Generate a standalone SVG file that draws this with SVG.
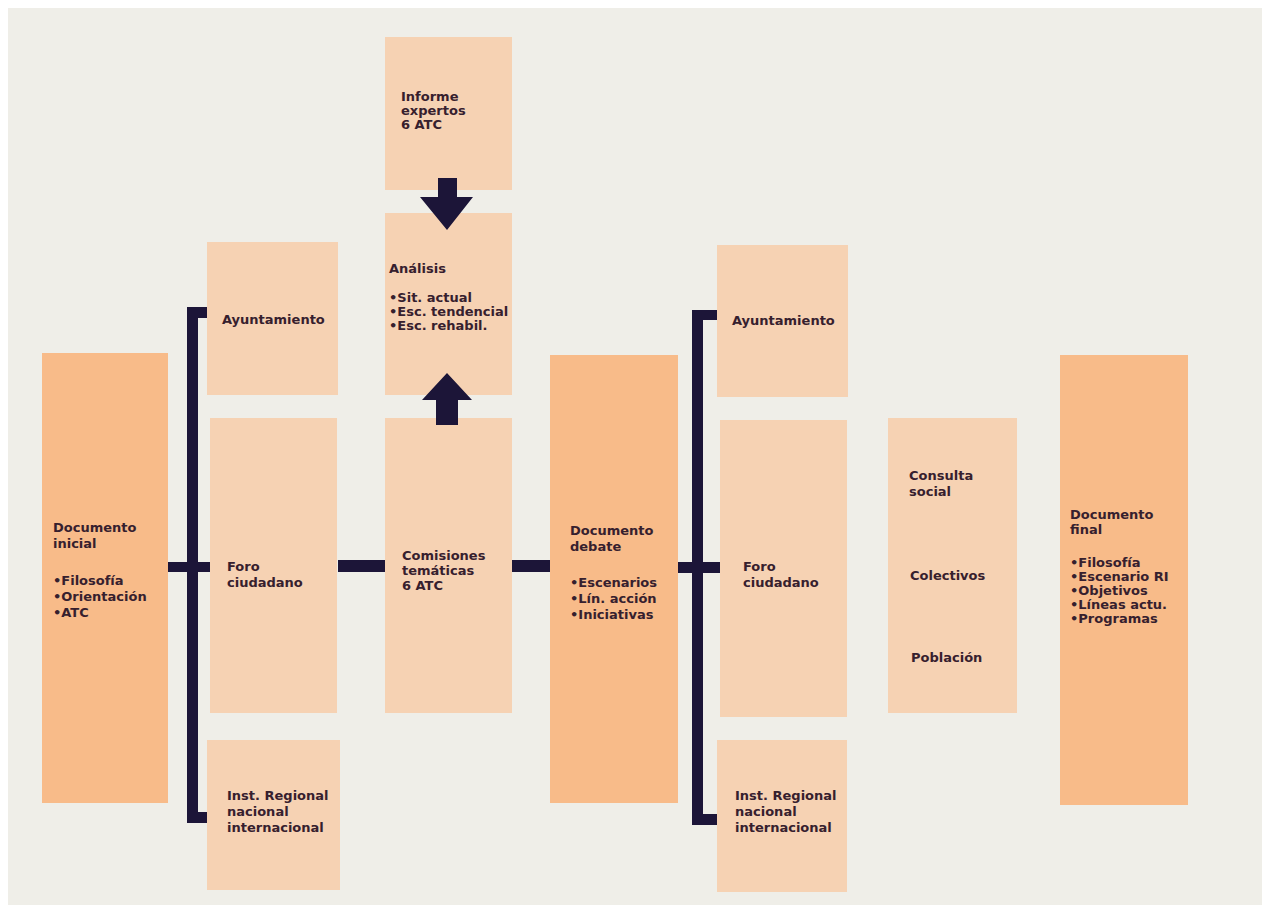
<svg xmlns="http://www.w3.org/2000/svg" width="1266" height="920" viewBox="0 0 1266 920">
<style>
.bg{fill:#efeee8}
.lt{fill:#f6d2b3}
.dk{fill:#f8bb89}
.bar{fill:#1c1538}
text{font-family:"DejaVu Sans",Verdana,sans-serif;font-weight:bold;font-size:13px;fill:#36202e}
</style>
<rect x="0" y="0" width="1266" height="920" fill="#ffffff"/>
<rect class="bg" x="8" y="8" width="1254" height="897"/>
<g id="informe"><rect class="lt" x="385" y="37" width="127" height="153"/>
<text x="401" y="101">Informe</text><text x="401" y="115">expertos</text><text x="401" y="129">6 ATC</text></g>
<g id="analisis"><rect class="lt" x="385" y="213" width="127" height="182"/>
<text x="389" y="273">Análisis</text><text x="389" y="302">•Sit. actual</text><text x="389" y="316">•Esc. tendencial</text><text x="389" y="330">•Esc. rehabil.</text></g>
<g id="doc-inicial"><rect class="dk" x="42" y="353" width="126" height="450"/>
<text x="53" y="532">Documento</text><text x="53" y="548">inicial</text><text x="53" y="585">•Filosofía</text><text x="53" y="601">•Orientación</text><text x="53" y="617">•ATC</text></g>
<g id="ayto-1"><rect class="lt" x="207" y="242" width="131" height="153"/>
<text x="222" y="324">Ayuntamiento</text></g>
<g id="foro-1"><rect class="lt" x="210" y="418" width="127" height="295"/>
<text x="227" y="571">Foro</text><text x="227" y="587">ciudadano</text></g>
<g id="inst-1"><rect class="lt" x="207" y="740" width="133" height="150"/>
<text x="227" y="800">Inst. Regional</text><text x="227" y="816">nacional</text><text x="227" y="832">internacional</text></g>
<g id="comisiones"><rect class="lt" x="385" y="418" width="127" height="295"/>
<text x="402" y="560">Comisiones</text><text x="402" y="575">temáticas</text><text x="402" y="590">6 ATC</text></g>
<g id="doc-debate"><rect class="dk" x="550" y="355" width="128" height="448"/>
<text x="570" y="535">Documento</text><text x="570" y="551">debate</text><text x="570" y="587">•Escenarios</text><text x="570" y="603">•Lín. acción</text><text x="570" y="619">•Iniciativas</text></g>
<g id="ayto-2"><rect class="lt" x="717" y="245" width="131" height="152"/>
<text x="732" y="325">Ayuntamiento</text></g>
<g id="foro-2"><rect class="lt" x="720" y="420" width="127" height="297"/>
<text x="743" y="571">Foro</text><text x="743" y="587">ciudadano</text></g>
<g id="inst-2"><rect class="lt" x="717" y="740" width="130" height="152"/>
<text x="735" y="800">Inst. Regional</text><text x="735" y="816">nacional</text><text x="735" y="832">internacional</text></g>
<g id="consulta"><rect class="lt" x="888" y="418" width="129" height="295"/>
<text x="909" y="480">Consulta</text><text x="909" y="496">social</text><text x="910" y="580">Colectivos</text><text x="911" y="662">Población</text></g>
<g id="doc-final"><rect class="dk" x="1060" y="355" width="128" height="450"/>
<text x="1070" y="519">Documento</text><text x="1070" y="534">final</text><text x="1070" y="567">•Filosofía</text><text x="1070" y="581">•Escenario RI</text><text x="1070" y="595">•Objetivos</text><text x="1070" y="609">•Líneas actu.</text><text x="1070" y="623">•Programas</text></g>
<g id="connectors">
<polygon class="bar" points="438,178 457,178 457,197 473,197 447,230 420,197 438,197"/>
<polygon class="bar" points="447,373 472,400 458,400 458,425 436,425 436,400 422,400"/>
<rect class="bar" x="187" y="307" width="11" height="516"/>
<rect class="bar" x="187" y="307" width="20" height="11"/>
<rect class="bar" x="187" y="812" width="20" height="11"/>
<rect class="bar" x="168" y="562" width="42" height="10"/>
<rect class="bar" x="338" y="560" width="47" height="12"/>
<rect class="bar" x="512" y="560" width="38" height="12"/>
<rect class="bar" x="692" y="310" width="11" height="515"/>
<rect class="bar" x="692" y="310" width="25" height="10"/>
<rect class="bar" x="692" y="814" width="25" height="11"/>
<rect class="bar" x="678" y="562" width="42" height="11"/>
</g>
</svg>
